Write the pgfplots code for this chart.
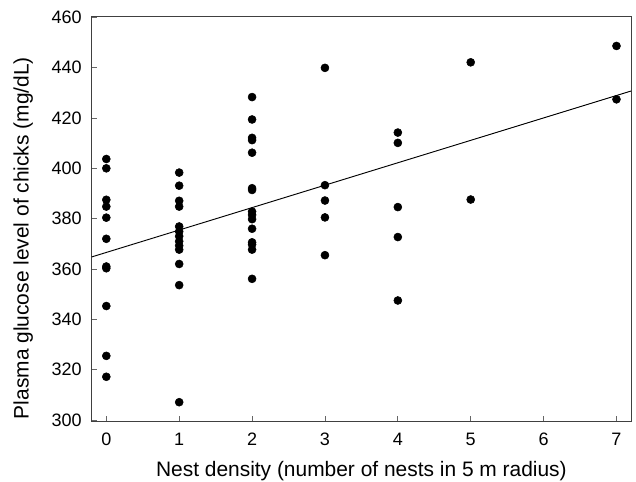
\documentclass[border=0pt]{standalone}
\usepackage{pgfplots}
\pgfplotsset{compat=1.18}
\usepackage{fontspec}
\setmainfont{Liberation Sans}
\begin{document}
\begin{tikzpicture}
\useasboundingbox (-68.8pt,-45.5pt) rectangle (408.2pt,316pt);
\begin{axis}[
  at={(0pt,0pt)}, anchor=south west,
  scale only axis,
  width=404.5pt, height=304pt,
  xmin=-0.2, xmax=7.2,
  ymin=299.5, ymax=460.5,
  xtick={0,1,...,7},
  ytick={300,320,...,460},
  tick align=inside,
  xtick pos=bottom, ytick pos=left,
  major tick length=4pt,
  axis line style={draw=black!75, line width=0.7pt},
  tick style={draw=black!60, line width=0.6pt},
  /pgf/number format/assume math mode=true,
  /pgf/number format/1000 sep={},
  tick label style={font=\fontsize{13.5}{16}\selectfont},
  xticklabel style={yshift=-5pt},
  yticklabel style={xshift=-4pt},
  label style={font=\fontsize{15.7}{18}\selectfont},
  xlabel={Nest density (number of nests in 5 m radius)},
  ylabel={Plasma glucose level of chicks (mg/dL)},
  xlabel style={at={(axis description cs:0.5,-0.135)}, anchor=base},
  ylabel style={at={(axis description cs:-0.127,0.452)}, anchor=center},
]
\addplot[only marks, mark=*, mark size=3pt, black] coordinates {
(0,403.7) (0,400) (0,387.5) (0,384.8) (0,380.4) (0,372) (0,361) (0,360.3) (0,345.3) (0,325.5) (0,317.2)
(1,398.3) (1,393.1) (1,387.1) (1,384.8) (1,376.9) (1,374.9) (1,373) (1,371) (1,369.3) (1,367.7) (1,362) (1,353.6) (1,307.1)
(2,428.3) (2,419.4) (2,412.1) (2,411.2) (2,406.2) (2,392.1) (2,391.4) (2,382.8) (2,381.5) (2,379.8) (2,376) (2,370.6) (2,369.7) (2,367.7) (2,356.1)
(3,439.9) (3,393.3) (3,387.2) (3,380.5) (3,365.5)
(4,414.2) (4,410.1) (4,384.6) (4,372.7) (4,347.5)
(5,442.1) (5,387.6)
(7,448.6) (7,427.4)
};
\addplot[black, line width=0.7pt] coordinates {(-0.2,364.8) (7.2,430.7)};
\end{axis}
\end{tikzpicture}
\end{document}
